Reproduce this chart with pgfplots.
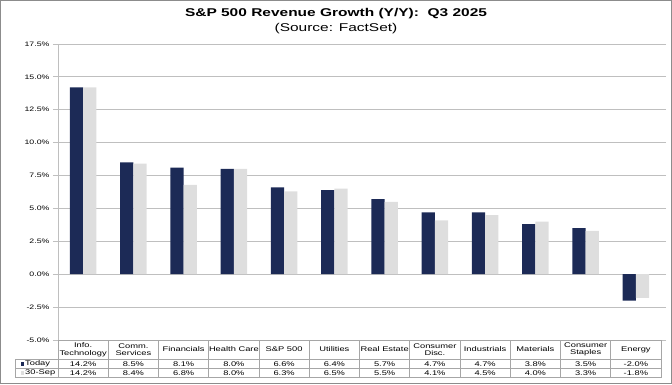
\documentclass[border=0pt]{standalone}
\usepackage{pgfplots}
\pgfplotsset{compat=1.18}
\usepackage{fontspec}
\setmainfont{Liberation Sans}[FakeStretch=1.37]
\definecolor{navy}{HTML}{1C2A56}
\definecolor{lgray}{HTML}{DEDEDE}
\definecolor{gridc}{HTML}{BFBFBF}
\definecolor{framec}{HTML}{8C8C8C}
\definecolor{tablec}{HTML}{A6A6A6}
\begin{document}
\begin{tikzpicture}[x=1pt,y=1pt]
\draw[framec, line width=1pt] (0.5,0.5) rectangle (671.5,383.5);
\node[font=\bfseries\fontsize{11.3}{13}\selectfont] at (336,370) {S\&P 500 Revenue Growth (Y/Y):\ \ Q3 2025};
\node[font=\fontsize{11.3}{13}\selectfont] at (336,355) {(Source: FactSet)};
\begin{axis}[at={(58pt,44pt)}, anchor=south west, scale only axis,
  width=603pt, height=296pt,
  xmin=-0.5, xmax=11.5, ymin=-5, ymax=17.5,
  ytick={-5,-2.5,0,2.5,5,7.5,10,12.5,15,17.5},
  yticklabels={-5.0\%,-2.5\%,0.0\%,2.5\%,5.0\%,7.5\%,10.0\%,12.5\%,15.0\%,17.5\%},
  xtick=\empty,
  ymajorgrids, grid style={gridc, line width=1pt},
  axis line style={draw=none},
  tick align=outside, major tick length=5pt,
  ytick style={gridc, line width=1pt},
  yticklabel style={font=\fontsize{6.4}{8}\selectfont, text=black},
  ybar=0pt, bar width=13.3pt,
  clip=false,
]
\addplot[fill=navy, draw=none] coordinates {(0,14.2)(1,8.5)(2,8.1)(3,8.0)(4,6.6)(5,6.4)(6,5.7)(7,4.7)(8,4.7)(9,3.8)(10,3.5)(11,-2.0)};
\addplot[fill=lgray, draw=none] coordinates {(0,14.2)(1,8.4)(2,6.8)(3,8.0)(4,6.3)(5,6.5)(6,5.5)(7,4.1)(8,4.5)(9,4.0)(10,3.3)(11,-1.8)};
\end{axis}
\draw[gridc, line width=1pt] (58,44) -- (58,340);
% data table
\begin{scope}[tablec, line width=0.8pt]
\draw (58,44) -- (661,44);
\draw (15,25) -- (661,25);
\draw (15,15.5) -- (661,15.5);
\draw (15,6.5) -- (661,6.5);
\draw (15,25) -- (15,6.5);
\foreach \i in {0,...,12} {\draw ({58+\i*50.25},44) -- ({58+\i*50.25},6.5);}
\end{scope}
\foreach \n [count=\i from 0] in {{Info.\\Technology},{Comm.\\Services},Financials,Health Care,S\&P 500,Utilities,Real Estate,{Consumer\\Disc.},Industrials,Materials,{Consumer\\Staples},Energy} {
  \node[font=\fontsize{6.8}{7.5}\selectfont, align=center] at ({58+\i*50.25+25.125},34.5) {\n};
}
\foreach \v [count=\i from 0] in {14.2\%,8.5\%,8.1\%,8.0\%,6.6\%,6.4\%,5.7\%,4.7\%,4.7\%,3.8\%,3.5\%,-2.0\%} {
  \node[font=\fontsize{6.8}{8}\selectfont] at ({58+\i*50.25+25.125},20.25) {\v};
}
\foreach \v [count=\i from 0] in {14.2\%,8.4\%,6.8\%,8.0\%,6.3\%,6.5\%,5.5\%,4.1\%,4.5\%,4.0\%,3.3\%,-1.8\%} {
  \node[font=\fontsize{6.8}{8}\selectfont] at ({58+\i*50.25+25.125},11) {\v};
}
\fill[navy] (20.5,18.5) rectangle (24,22);
\node[font=\fontsize{6.8}{8}\selectfont, anchor=west, inner sep=0pt] at (25,20.25) {Today};
\fill[lgray] (20.5,9.25) rectangle (24,12.75);
\node[font=\fontsize{6.8}{8}\selectfont, anchor=west, inner sep=0pt] at (25,11) {30-Sep};
\end{tikzpicture}
\end{document}
